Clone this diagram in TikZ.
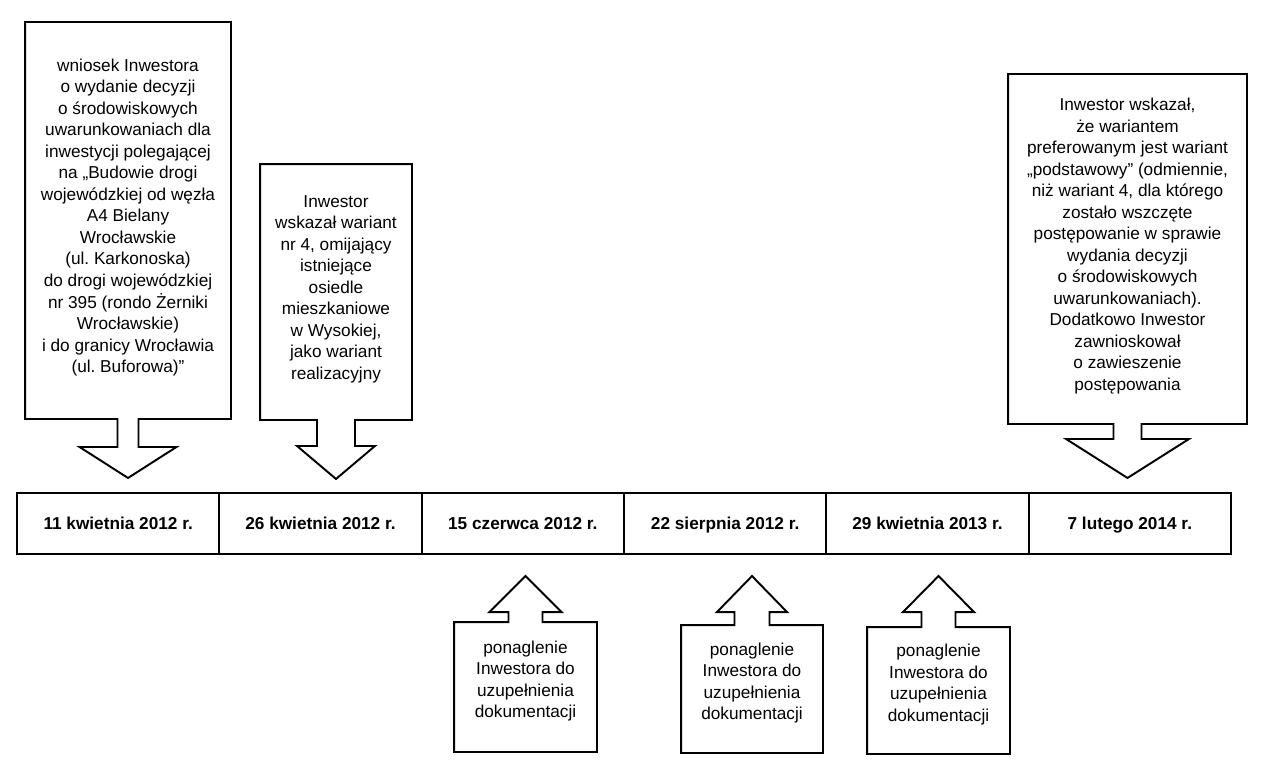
\documentclass[tikz,border=0pt]{standalone}
\usepackage{fontspec}
\setmainfont{Liberation Sans}
\usetikzlibrary{calc}
\tikzset{
  every picture/.style={line width=1.1pt, line join=miter},
  txt/.style={align=center, inner sep=0pt, text depth=5.5pt, font=\fontsize{9.8}{12.25}\selectfont\frenchspacing},
  callout/.style 2 args={txt, minimum width=#1*0.02cm, minimum height=#2*0.02cm},
  date/.style={draw, txt, font=\fontsize{9.8}{12.25}\selectfont\bfseries, text height=0.72em, text depth=0pt,
    minimum width=202.33*0.02cm, minimum height=61*0.02cm, outer sep=0pt},
}

\begin{document}
\begin{tikzpicture}[x=0.02cm, y=-0.02cm]
  \fill[white] (0,0) rectangle (1270,767);
  \useasboundingbox (0,0) rectangle (1270,767);
  % timeline
  \foreach \i/\t in {1/11 kwietnia 2012 r., 2/26 kwietnia 2012 r., 3/15 czerwca 2012 r., 4/22 sierpnia 2012 r., 5/29 kwietnia 2013 r., 6/7 lutego 2014 r.}
    \node[date] (d\i) at ({17+202.33*(\i-0.5)}, 523.5) {\t};
  % upper boxes
  \node[callout={204}{395}] (w1) at (128, 220.5) {wniosek Inwestora\\o wydanie decyzji\\o środowiskowych\\uwarunkowaniach dla\\inwestycji polegającej\\na „Budowie drogi\\wojewódzkiej od węzła\\A4 Bielany\\Wrocławskie\\(ul. Karkonoska)\\do drogi wojewódzkiej\\nr 395 (rondo Żerniki\\Wrocławskie)\\i do granicy Wrocławia\\(ul. Buforowa)”};
  \node[callout={150}{254}] (w2) at (336, 292) {Inwestor\\wskazał wariant\\nr 4, omijający\\istniejące\\osiedle\\mieszkaniowe\\w Wysokiej,\\jako wariant\\realizacyjny};
  \node[callout={237}{348}] (w3) at (1127.5, 249) {Inwestor wskazał,\\że wariantem\\preferowanym jest wariant\\„podstawowy” (odmiennie,\\niż wariant 4, dla którego\\zostało wszczęte\\postępowanie w sprawie\\wydania decyzji\\o środowiskowych\\uwarunkowaniach).\\Dodatkowo Inwestor\\zawnioskował\\o zawieszenie\\postępowania};
  % lower boxes
  \foreach \n/\x/\y/\w/\h in {p1/525.5/687/141/128, p2/752/689/140/126, p3/938.5/690.5/141/125}
    \node[callout={\w}{\h}, text depth=9pt] (\n) at (\x, \y) {ponaglenie\\Inwestora do\\uzupełnienia\\dokumentacji};
  % outlines with block arrows down
  \foreach \n/\s/\h/\b/\t in {w1/10.5/48.5/28/59, w2/19/39/26/59, w3/14/61.5/15/54}
    \draw (\n.south east) -- ($(\n.south)+(\s,0)$) -- ++(0,\b) -- ($(\n.south)+(\h,\b)$) -- ($(\n.south)+(0,\t)$)
      -- ($(\n.south)+(-\h,\b)$) -- ($(\n.south)+(-\s,\b)$) -- ($(\n.south)+(-\s,0)$) -- (\n.south west)
      -- (\n.north west) -- (\n.north east) -- cycle;
  % outlines with block arrows up
  \foreach \n/\s/\h/\b/\t in {p1/17/36/10/46, p2/17.5/35/13/49, p3/17/35.5/15/51}
    \draw (\n.north west) -- ($(\n.north)+(-\s,0)$) -- ++(0,-\b) -- ($(\n.north)+(-\h,-\b)$) -- ($(\n.north)+(0,-\t)$)
      -- ($(\n.north)+(\h,-\b)$) -- ($(\n.north)+(\s,-\b)$) -- ($(\n.north)+(\s,0)$) -- (\n.north east)
      -- (\n.south east) -- (\n.south west) -- cycle;
\end{tikzpicture}
\end{document}
